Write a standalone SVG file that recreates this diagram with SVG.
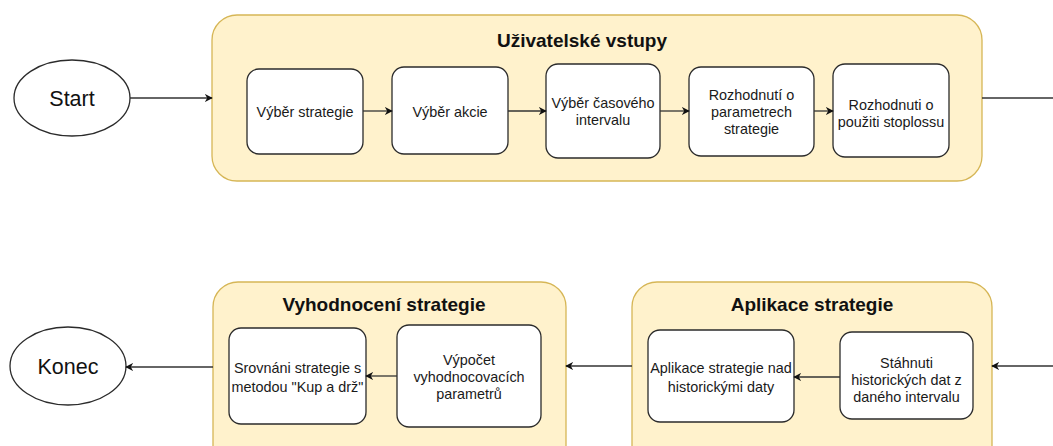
<svg xmlns="http://www.w3.org/2000/svg" width="1053" height="446" viewBox="0 0 1053 446">
<style>
.cont{fill:#fff2cc;stroke:#d6b656;stroke-width:1.3}
.node{fill:#ffffff;stroke:#2b2b2b;stroke-width:1.3}
.ell{fill:#ffffff;stroke:#2b2b2b;stroke-width:1.3}
.t{font-family:"Liberation Sans",Arial,sans-serif;font-size:14.4px;fill:#1a1a1a;text-anchor:middle}
.title{font-family:"Liberation Sans",Arial,sans-serif;font-size:19px;font-weight:bold;fill:#111;text-anchor:middle}
.big{font-family:"Liberation Sans",Arial,sans-serif;font-size:21.5px;fill:#111;text-anchor:middle}
.c{fill:none;stroke:#333;stroke-width:1.3}
</style>
<defs>
<marker id="ah" viewBox="0 0 10 10" refX="9" refY="5" markerWidth="8" markerHeight="8" markerUnits="userSpaceOnUse" orient="auto">
<path d="M0,0 L10,5 L0,10 L3,5 Z" fill="#111"/>
</marker>
</defs>
<rect width="1053" height="446" fill="#ffffff"/>

<g id="container-uzivatelske-vstupy">
<rect class="cont" x="212" y="15" width="770" height="166" rx="25"/>
<text class="title" x="582" y="47">Uživatelské vstupy</text>
</g>
<g id="container-vyhodnoceni">
<rect class="cont" x="213" y="282" width="353" height="190" rx="25"/>
<text class="title" x="384" y="311">Vyhodnocení strategie</text>
</g>
<g id="container-aplikace">
<rect class="cont" x="632" y="282" width="360" height="190" rx="25"/>
<text class="title" x="812" y="311">Aplikace strategie</text>
</g>

<g id="start">
<ellipse class="ell" cx="72" cy="98" rx="58" ry="38"/>
<text class="big" x="72" y="106">Start</text>
</g>
<g id="konec">
<ellipse class="ell" cx="68" cy="366" rx="58" ry="39"/>
<text class="big" x="68" y="374">Konec</text>
</g>

<g id="vyber-strategie">
<rect class="node" x="247" y="69" width="116" height="85" rx="12"/>
<text class="t" x="305" y="117">Výběr strategie</text>
</g>
<g id="vyber-akcie">
<rect class="node" x="392" y="67" width="116" height="87" rx="12"/>
<text class="t" x="450" y="117">Výběr akcie</text>
</g>
<g id="vyber-casoveho-intervalu">
<rect class="node" x="546" y="64" width="114" height="94" rx="12"/>
<text class="t" x="603" y="108">Výběr časového</text>
<text class="t" x="603" y="125">intervalu</text>
</g>
<g id="rozhodnuti-parametry">
<rect class="node" x="689" y="67" width="125" height="89" rx="12"/>
<text class="t" x="751.5" y="100">Rozhodnutí o</text>
<text class="t" x="751.5" y="117">parametrech</text>
<text class="t" x="751.5" y="134">strategie</text>
</g>
<g id="rozhodnuti-stoploss">
<rect class="node" x="833" y="64" width="116" height="93" rx="12"/>
<text class="t" x="891" y="110">Rozhodnuti o</text>
<text class="t" x="891" y="127">použiti stoplossu</text>
</g>

<g id="srovnani">
<rect class="node" x="229" y="328" width="137" height="96" rx="12"/>
<text class="t" x="297.5" y="373">Srovnáni strategie s</text>
<text class="t" x="297.5" y="392">metodou "Kup a drž"</text>
</g>
<g id="vypocet">
<rect class="node" x="397" y="325" width="144" height="102" rx="12"/>
<text class="t" x="469" y="365">Výpočet</text>
<text class="t" x="469" y="382">vyhodnocovacích</text>
<text class="t" x="469" y="399">parametrů</text>
</g>
<g id="aplikace-nad-daty">
<rect class="node" x="648" y="330" width="146" height="92" rx="12"/>
<text class="t" x="721" y="373">Aplikace strategie nad</text>
<text class="t" x="721" y="392">historickými daty</text>
</g>
<g id="stahnuti">
<rect class="node" x="840" y="332" width="133" height="87" rx="12"/>
<text class="t" x="906.5" y="368">Stáhnuti</text>
<text class="t" x="906.5" y="385">historických dat z</text>
<text class="t" x="906.5" y="402">daného intervalu</text>
</g>

<g id="connectors">
<line class="c" x1="130" y1="98" x2="212" y2="98" marker-end="url(#ah)"/>
<line class="c" x1="363" y1="111" x2="392" y2="111" marker-end="url(#ah)"/>
<line class="c" x1="508" y1="111" x2="546" y2="111" marker-end="url(#ah)"/>
<line class="c" x1="660" y1="111" x2="689" y2="111" marker-end="url(#ah)"/>
<line class="c" x1="814" y1="111" x2="833" y2="111" marker-end="url(#ah)"/>
<line class="c" x1="982" y1="98" x2="1053" y2="98"/>
<line class="c" x1="1053" y1="366" x2="992" y2="366" marker-end="url(#ah)"/>
<line class="c" x1="840" y1="377" x2="794" y2="377" marker-end="url(#ah)"/>
<line class="c" x1="632" y1="366" x2="566" y2="366" marker-end="url(#ah)"/>
<line class="c" x1="397" y1="376" x2="366" y2="376" marker-end="url(#ah)"/>
<line class="c" x1="213" y1="367" x2="126" y2="367" marker-end="url(#ah)"/>
</g>
</svg>
